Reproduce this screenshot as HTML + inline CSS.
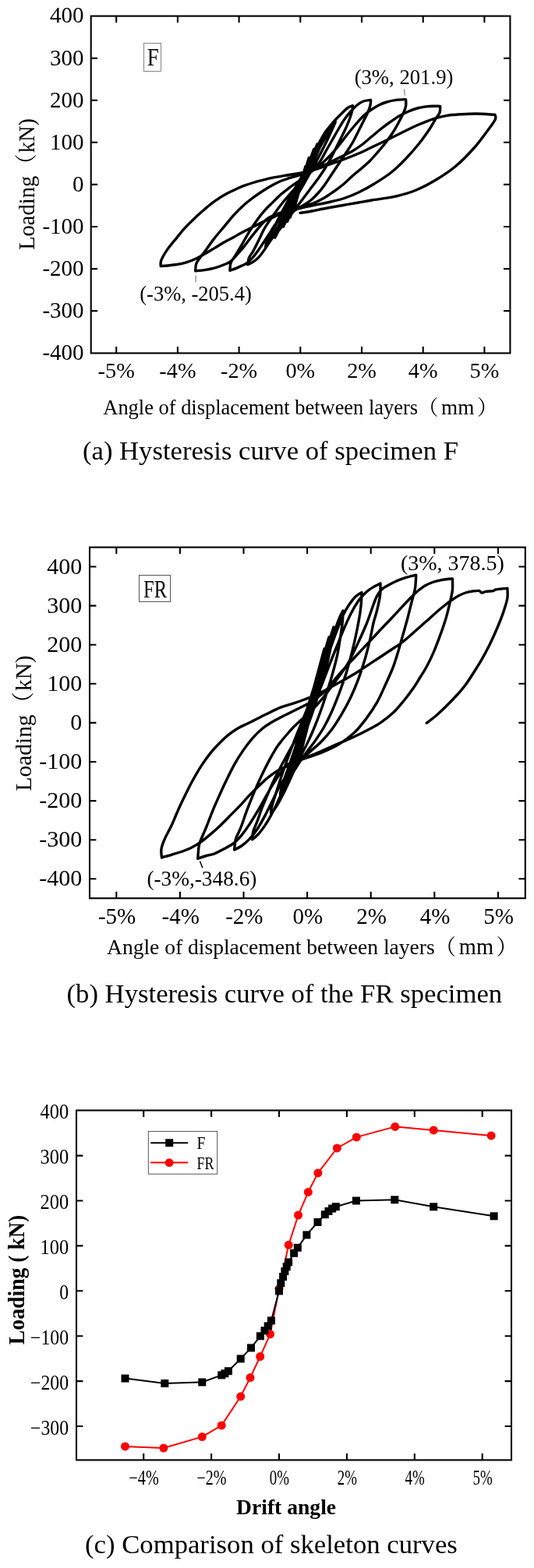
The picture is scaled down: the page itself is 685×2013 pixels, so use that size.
<!DOCTYPE html>
<html><head><meta charset="utf-8"><title>Hysteresis curves</title>
<style>
html,body{margin:0;padding:0;background:#fff;}
body{width:685px;height:2013px;overflow:hidden;}
svg{display:block;}
text{font-family:"Liberation Serif","Noto Serif CJK SC",serif;fill:#000;}
.cj{font-family:"Noto Serif CJK SC","Liberation Serif",serif;}
.b{font-weight:bold;}
</style></head><body>
<svg width="685" height="2013" viewBox="0 0 685 2013">
<rect x="116.7" y="20.6" width="537.7" height="432.8" fill="none" stroke="#000" stroke-width="2.1"/><path d="M149.2 453.4v-8.4M149.2 20.6v8.4M227.9 453.4v-8.4M227.9 20.6v8.4M306.6 453.4v-8.4M306.6 20.6v8.4M385.3 453.4v-8.4M385.3 20.6v8.4M464 453.4v-8.4M464 20.6v8.4M542.7 453.4v-8.4M542.7 20.6v8.4M621.4 453.4v-8.4M621.4 20.6v8.4M116.7 74.7h8.4M654.4 74.7h-8.4M116.7 128.8h8.4M654.4 128.8h-8.4M116.7 182.8h8.4M654.4 182.8h-8.4M116.7 236.9h8.4M654.4 236.9h-8.4M116.7 291h8.4M654.4 291h-8.4M116.7 345.1h8.4M654.4 345.1h-8.4M116.7 399.1h8.4M654.4 399.1h-8.4" stroke="#000" stroke-width="2.1" fill="none"/>
<text x="107.6" y="29.4" font-size="29" text-anchor="end" >400</text>
<text x="107.6" y="83.5" font-size="29" text-anchor="end" >300</text>
<text x="107.6" y="137.6" font-size="29" text-anchor="end" >200</text>
<text x="107.6" y="191.6" font-size="29" text-anchor="end" >100</text>
<text x="107.6" y="245.7" font-size="29" text-anchor="end" >0</text>
<text x="107.6" y="299.8" font-size="29" text-anchor="end" >-100</text>
<text x="107.6" y="353.9" font-size="29" text-anchor="end" >-200</text>
<text x="107.6" y="407.9" font-size="29" text-anchor="end" >-300</text>
<text x="107.6" y="462" font-size="29" text-anchor="end" >-400</text>
<text x="149.2" y="484.7" font-size="28.3" text-anchor="middle" >-5%</text>
<text x="227.9" y="484.7" font-size="28.3" text-anchor="middle" >-4%</text>
<text x="306.6" y="484.7" font-size="28.3" text-anchor="middle" >-2%</text>
<text x="385.3" y="484.7" font-size="28.3" text-anchor="middle" >0%</text>
<text x="464" y="484.7" font-size="28.3" text-anchor="middle" >2%</text>
<text x="542.7" y="484.7" font-size="28.3" text-anchor="middle" >4%</text>
<text x="621.4" y="484.7" font-size="28.3" text-anchor="middle" >5%</text>
<text transform="translate(43.9,320.8) rotate(-90)" font-size="28.5">Loading<tspan class="cj">（</tspan><tspan dx="1">kN)</tspan></text>
<text x="132.3" y="531.6" font-size="26.45">Angle of displacement between layers</text><text x="536.1" y="531.6" font-size="26.45" class="cj">（</text><text x="566.1" y="531.6" font-size="27.2">mm</text><text x="612" y="531.6" font-size="26.45" class="cj">）</text>
<text x="106" y="589.9" font-size="34.65" text-anchor="start" >(a) Hysteresis curve of specimen F</text>
<rect x="184.5" y="55.5" width="22" height="36" fill="#fff" stroke="#666" stroke-width="0.8"/>
<text transform="translate(188.7,84.1) scale(0.87,1)" font-size="31">F</text>
<text x="518" y="107.5" font-size="26.7" text-anchor="middle" >(3%, 201.9)</text>
<text x="251" y="385.7" font-size="26.5" text-anchor="middle" >(-3%, -205.4)</text>
<path d="M518.7 114.5L519.2 122.5M251.1 353.6V362.3" stroke="#555" stroke-width="0.9"/>
<rect x="115" y="702.6" width="558.8" height="450.6" fill="none" stroke="#000" stroke-width="2.1"/><path d="M149.3 1153.2v-8.4M149.3 702.6v8.4M230.9 1153.2v-8.4M230.9 702.6v8.4M312.5 1153.2v-8.4M312.5 702.6v8.4M394.1 1153.2v-8.4M394.1 702.6v8.4M475.7 1153.2v-8.4M475.7 702.6v8.4M557.3 1153.2v-8.4M557.3 702.6v8.4M638.9 1153.2v-8.4M638.9 702.6v8.4M115 727.5h8.4M673.8 727.5h-8.4M115 777.6h8.4M673.8 777.6h-8.4M115 827.7h8.4M673.8 827.7h-8.4M115 877.8h8.4M673.8 877.8h-8.4M115 927.9h8.4M673.8 927.9h-8.4M115 978h8.4M673.8 978h-8.4M115 1028.1h8.4M673.8 1028.1h-8.4M115 1078.2h8.4M673.8 1078.2h-8.4M115 1128.3h8.4M673.8 1128.3h-8.4" stroke="#000" stroke-width="2.1" fill="none"/>
<text x="105.3" y="736.5" font-size="30" text-anchor="end" >400</text>
<text x="105.3" y="786.6" font-size="30" text-anchor="end" >300</text>
<text x="105.3" y="836.7" font-size="30" text-anchor="end" >200</text>
<text x="105.3" y="886.8" font-size="30" text-anchor="end" >100</text>
<text x="105.3" y="936.9" font-size="30" text-anchor="end" >0</text>
<text x="105.3" y="987" font-size="30" text-anchor="end" >-100</text>
<text x="105.3" y="1037.1" font-size="30" text-anchor="end" >-200</text>
<text x="105.3" y="1087.2" font-size="30" text-anchor="end" >-300</text>
<text x="105.3" y="1137.3" font-size="30" text-anchor="end" >-400</text>
<text x="150.1" y="1185.8" font-size="29" text-anchor="middle" >-5%</text>
<text x="231.7" y="1185.8" font-size="29" text-anchor="middle" >-4%</text>
<text x="313.3" y="1185.8" font-size="29" text-anchor="middle" >-2%</text>
<text x="394.9" y="1185.8" font-size="29" text-anchor="middle" >0%</text>
<text x="476.5" y="1185.8" font-size="29" text-anchor="middle" >2%</text>
<text x="558.1" y="1185.8" font-size="29" text-anchor="middle" >4%</text>
<text x="639.7" y="1185.8" font-size="29" text-anchor="middle" >5%</text>
<text transform="translate(39.9,1015.4) rotate(-90)" font-size="29.4">Loading<tspan class="cj">（</tspan><tspan dx="1">kN)</tspan></text>
<text x="137" y="1224.5" font-size="27.55">Angle of displacement between layers</text><text x="557.6" y="1224.5" font-size="27.55" class="cj">（</text><text x="588.8" y="1224.5" font-size="28.4">mm</text><text x="636.6" y="1224.5" font-size="27.55" class="cj">）</text>
<text x="85.5" y="1287.1" font-size="34.7" text-anchor="start" >(b) Hysteresis curve of the FR specimen</text>
<rect x="178.5" y="738.5" width="40" height="34" fill="#fff" stroke="#555" stroke-width="1"/>
<text x="184" y="766.9" font-size="31.5" text-anchor="start" textLength="30" lengthAdjust="spacingAndGlyphs" >FR</text>
<text x="580.4" y="732.2" font-size="28" text-anchor="middle" >(3%, 378.5)</text>
<text x="258.9" y="1137.2" font-size="27.3" text-anchor="middle" >(-3%,-348.6)</text>
<path d="M256.4 1105.5L259.9 1114.3" stroke="#000" stroke-width="1.5"/>
<rect x="98" y="1425.5" width="558" height="448.9" fill="none" stroke="#000" stroke-width="2.1"/><path d="M184.2 1874.4v-8.4M184.2 1425.5v8.4M271.1 1874.4v-8.4M271.1 1425.5v8.4M358 1874.4v-8.4M358 1425.5v8.4M444.9 1874.4v-8.4M444.9 1425.5v8.4M531.8 1874.4v-8.4M531.8 1425.5v8.4M618.7 1874.4v-8.4M618.7 1425.5v8.4M98 1483.6h8.4M656 1483.6h-8.4M98 1541.5h8.4M656 1541.5h-8.4M98 1599.4h8.4M656 1599.4h-8.4M98 1657.3h8.4M656 1657.3h-8.4M98 1715.2h8.4M656 1715.2h-8.4M98 1773.1h8.4M656 1773.1h-8.4M98 1831h8.4M656 1831h-8.4" stroke="#000" stroke-width="2.1" fill="none"/>
<text x="88.1" y="1436" font-size="26.3" text-anchor="end" textLength="36.6" lengthAdjust="spacingAndGlyphs" >400</text>
<text x="88.1" y="1494.1" font-size="26.3" text-anchor="end" textLength="36.6" lengthAdjust="spacingAndGlyphs" >300</text>
<text x="88.1" y="1552" font-size="26.3" text-anchor="end" textLength="36.6" lengthAdjust="spacingAndGlyphs" >200</text>
<text x="88.1" y="1609.9" font-size="26.3" text-anchor="end" textLength="36.6" lengthAdjust="spacingAndGlyphs" >100</text>
<text x="88.1" y="1667.8" font-size="26.3" text-anchor="end" textLength="11.8" lengthAdjust="spacingAndGlyphs" >0</text>
<text x="88.1" y="1725.7" font-size="26.3" text-anchor="end" textLength="49" lengthAdjust="spacingAndGlyphs" >−100</text>
<text x="88.1" y="1783.6" font-size="26.3" text-anchor="end" textLength="49" lengthAdjust="spacingAndGlyphs" >−200</text>
<text x="88.1" y="1841.5" font-size="26.3" text-anchor="end" textLength="49" lengthAdjust="spacingAndGlyphs" >−300</text>
<text x="184.6" y="1905.5" font-size="26.3" text-anchor="middle" textLength="38.1" lengthAdjust="spacingAndGlyphs" >−4%</text>
<text x="271.5" y="1905.5" font-size="26.3" text-anchor="middle" textLength="38.1" lengthAdjust="spacingAndGlyphs" >−2%</text>
<text x="358.4" y="1905.5" font-size="26.3" text-anchor="middle" textLength="25.2" lengthAdjust="spacingAndGlyphs" >0%</text>
<text x="445.3" y="1905.5" font-size="26.3" text-anchor="middle" textLength="25.2" lengthAdjust="spacingAndGlyphs" >2%</text>
<text x="532.2" y="1905.5" font-size="26.3" text-anchor="middle" textLength="25.2" lengthAdjust="spacingAndGlyphs" >4%</text>
<text x="619.1" y="1905.5" font-size="26.3" text-anchor="middle" textLength="25.2" lengthAdjust="spacingAndGlyphs" >5%</text>
<text x="0" y="0" font-size="30" text-anchor="middle" class="b" textLength="166.5" lengthAdjust="spacingAndGlyphs" transform="translate(31.2,1643) rotate(-90)">Loading ( kN)</text>
<text x="367.1" y="1944.4" font-size="27.6" text-anchor="middle" class="b" >Drift angle</text>
<text x="109" y="1994.4" font-size="34.7" text-anchor="start" >(c) Comparison of skeleton curves</text>
<polyline points="160.5,1856.9 209.9,1859 259.3,1844.6 284.2,1829.9 308.7,1792.8 321,1768.6 333.7,1741.5 346.6,1712.8 358,1654.6 370.2,1598.3 382.6,1560 395.3,1530.4 407.9,1505.9 432.4,1473.9 457.3,1459.9 506.8,1446.4 556.2,1450.9 630.1,1457.9" fill="none" stroke="#f00" stroke-width="2"/>
<g fill="#f00"><circle cx="160.5" cy="1856.9" r="5.5"/><circle cx="209.9" cy="1859" r="5.5"/><circle cx="259.3" cy="1844.6" r="5.5"/><circle cx="284.2" cy="1829.9" r="5.5"/><circle cx="308.7" cy="1792.8" r="5.5"/><circle cx="321" cy="1768.6" r="5.5"/><circle cx="333.7" cy="1741.5" r="5.5"/><circle cx="346.6" cy="1712.8" r="5.5"/><circle cx="358" cy="1654.6" r="5.5"/><circle cx="370.2" cy="1598.3" r="5.5"/><circle cx="382.6" cy="1560" r="5.5"/><circle cx="395.3" cy="1530.4" r="5.5"/><circle cx="407.9" cy="1505.9" r="5.5"/><circle cx="432.4" cy="1473.9" r="5.5"/><circle cx="457.3" cy="1459.9" r="5.5"/><circle cx="506.8" cy="1446.4" r="5.5"/><circle cx="556.2" cy="1450.9" r="5.5"/><circle cx="630.1" cy="1457.9" r="5.5"/></g>
<polyline points="160.5,1769.6 211.3,1776 259.3,1774.5 284.2,1765.4 288.4,1763.3 292.9,1760.2 308.7,1744.4 322,1730.4 333.9,1715.3 339.5,1708.3 343.7,1702.4 347.9,1695.4 358,1657.4 360.3,1647.3 363.1,1639.1 365.4,1632.1 367.7,1626.3 370.1,1620.4 377.1,1608.8 381.8,1601.8 393.4,1585.4 407.5,1569 416.8,1559.2 421.5,1555 426.1,1551.5 430.8,1549.2 456.9,1541.5 506.3,1540.3 556.2,1549.3 633.6,1561.3" fill="none" stroke="#000" stroke-width="2"/>
<g fill="#000"><rect x="155.5" y="1764.6" width="10" height="10"/><rect x="206.3" y="1771" width="10" height="10"/><rect x="254.3" y="1769.5" width="10" height="10"/><rect x="279.2" y="1760.4" width="10" height="10"/><rect x="283.4" y="1758.3" width="10" height="10"/><rect x="287.9" y="1755.2" width="10" height="10"/><rect x="303.7" y="1739.4" width="10" height="10"/><rect x="317" y="1725.4" width="10" height="10"/><rect x="328.9" y="1710.3" width="10" height="10"/><rect x="334.5" y="1703.3" width="10" height="10"/><rect x="338.7" y="1697.4" width="10" height="10"/><rect x="342.9" y="1690.4" width="10" height="10"/><rect x="353" y="1652.4" width="10" height="10"/><rect x="355.3" y="1642.3" width="10" height="10"/><rect x="358.1" y="1634.1" width="10" height="10"/><rect x="360.4" y="1627.1" width="10" height="10"/><rect x="362.7" y="1621.3" width="10" height="10"/><rect x="365.1" y="1615.4" width="10" height="10"/><rect x="372.1" y="1603.8" width="10" height="10"/><rect x="376.8" y="1596.8" width="10" height="10"/><rect x="388.4" y="1580.4" width="10" height="10"/><rect x="402.5" y="1564" width="10" height="10"/><rect x="411.8" y="1554.2" width="10" height="10"/><rect x="416.5" y="1550" width="10" height="10"/><rect x="421.1" y="1546.5" width="10" height="10"/><rect x="425.8" y="1544.2" width="10" height="10"/><rect x="451.9" y="1536.5" width="10" height="10"/><rect x="501.3" y="1535.3" width="10" height="10"/><rect x="551.2" y="1544.3" width="10" height="10"/><rect x="628.6" y="1556.3" width="10" height="10"/></g>
<rect x="190.3" y="1452.4" width="88.4" height="54.8" fill="#fff" stroke="#444" stroke-width="0.9"/>
<path d="M193.2 1467.2H241.2" stroke="#000" stroke-width="2"/><rect x="212.2" y="1462.2" width="10" height="10"/>
<path d="M193.2 1492.6H241.2" stroke="#f00" stroke-width="2"/><circle cx="217.1" cy="1492.6" r="5.4" fill="#f00"/>
<text x="252.6" y="1475.2" font-size="23" text-anchor="start" textLength="11" lengthAdjust="spacingAndGlyphs" >F</text>
<text x="252.6" y="1500.6" font-size="23" text-anchor="start" textLength="22" lengthAdjust="spacingAndGlyphs" >FR</text>
<path d="M385.3 236.9C385.4 236.4 385.8 234.9 386 234C386.3 233 386.6 232 386.8 231C387.1 230 387.4 229.1 387.6 228.1C387.9 227.1 388.2 226.1 388.5 225.1C388.8 224.2 389.1 223.2 389.4 222.2C389.6 221.2 389.9 220.2 390.2 219.3C390.5 218.3 390.8 217.3 391.1 216.3C391.4 215.3 391.9 213.9 392 213.4L391.8 214.2C391.5 215.2 390.8 218.3 390.2 220.4C389.7 222.5 389.2 224.6 388.6 226.6C388.1 228.7 387.6 230.8 387 232.9C386.5 234.9 385.9 237 385.3 239.1C384.8 241.1 384.2 243.2 383.7 245.3C383.1 247.4 382.5 249.4 382 251.5C381.4 253.6 380.8 255.6 380.3 257.7C379.7 259.8 378.8 262.9 378.6 263.9L378.8 263C379.1 261.7 380 257.9 380.7 255.4C381.4 252.9 382.1 250.4 382.8 247.9C383.5 245.3 384.2 242.8 384.9 240.3C385.7 237.8 386.4 235.2 387.1 232.7C387.9 230.2 388.6 227.7 389.4 225.2C390.2 222.6 390.9 220.1 391.7 217.6C392.5 215.1 393.2 212.5 394 210C394.8 207.5 395.9 203.7 396.3 202.5L396.1 203.7C395.6 205.2 394.3 209.9 393.4 213.1C392.5 216.2 391.5 219.4 390.6 222.5C389.6 225.6 388.7 228.8 387.7 231.9C386.7 235.1 385.7 238.2 384.7 241.3C383.7 244.5 382.7 247.6 381.6 250.8C380.6 253.9 379.6 257 378.5 260.2C377.5 263.3 376.5 266.5 375.4 269.6C374.4 272.7 372.9 277.5 372.3 279L372.5 277.6C373.1 275.8 374.7 270.4 375.8 266.8C377 263.2 378.2 259.6 379.3 256.1C380.5 252.5 381.8 248.9 383 245.3C384.3 241.7 385.5 238.1 386.8 234.6C388.1 231 389.4 227.4 390.7 223.8C392 220.2 393.4 216.7 394.7 213.1C396 209.5 397.3 205.9 398.7 202.3C400 198.7 402 193.4 402.6 191.6L402.4 193.2C401.8 195.1 399.9 200.8 398.6 204.6C397.3 208.4 396 212.2 394.6 216C393.3 219.8 391.9 223.6 390.5 227.4C389.1 231.2 387.6 235 386.2 238.8C384.8 242.6 383.3 246.4 381.8 250.2C380.4 254 378.9 257.9 377.4 261.7C375.9 265.5 374.4 269.3 373 273.1C371.5 276.9 369.3 282.6 368.5 284.5L368.7 282.8C369.4 280.8 371.4 274.7 372.8 270.6C374.3 266.5 375.7 262.5 377.2 258.4C378.7 254.3 380.3 250.2 381.9 246.2C383.5 242.1 385.1 238 386.7 234C388.3 229.9 390 225.8 391.7 221.7C393.3 217.7 395 213.6 396.7 209.5C398.4 205.5 400.1 201.4 401.8 197.3C403.5 193.2 406 187.1 406.9 185.1L406.7 186.9C405.9 189.1 403.5 195.6 401.9 199.9C400.3 204.3 398.6 208.6 396.9 212.9C395.2 217.3 393.4 221.6 391.6 225.9C389.8 230.3 388 234.6 386.2 238.9C384.3 243.3 382.4 247.6 380.6 252C378.7 256.3 376.8 260.6 374.9 265C373 269.3 371.1 273.6 369.2 278C367.3 282.3 364.4 288.8 363.5 291L363.7 289.1C364.5 286.9 366.8 280.5 368.4 276.3C370 272 371.7 267.7 373.4 263.5C375.1 259.2 376.8 254.9 378.6 250.7C380.4 246.4 382.2 242.1 384 237.8C385.8 233.6 387.7 229.3 389.6 225C391.4 220.8 393.3 216.5 395.2 212.2C397 208 398.9 203.7 400.8 199.4C402.7 195.1 405.5 188.7 406.4 186.6L406.2 188.4C405.5 190.5 403.2 196.8 401.6 201C400 205.2 398.4 209.4 396.7 213.6C395 217.8 393.3 222 391.6 226.2C389.8 230.4 388 234.7 386.2 238.9C384.5 243.1 382.6 247.3 380.8 251.5C379 255.7 377.1 259.9 375.3 264.1C373.4 268.3 371.6 272.5 369.7 276.7C367.8 280.9 365.1 287.2 364.2 289.4L364.4 287.5C365.3 285.1 367.9 277.7 369.8 272.8C371.6 267.9 373.6 263 375.7 258.1C377.8 253.2 379.9 248.3 382.1 243.4C384.3 238.4 386.5 233.5 388.8 228.6C391.1 223.7 393.5 218.8 395.8 213.9C398.2 209 400.6 204.1 403 199.2C405.4 194.3 407.8 189.4 410.2 184.5C412.6 179.6 416.2 172.2 417.4 169.7L417.2 172.1C416.1 174.9 412.7 183.2 410.4 188.7C408 194.3 405.5 199.8 403 205.4C400.5 210.9 397.9 216.4 395.2 222C392.5 227.5 389.8 233.1 387 238.6C384.3 244.2 381.4 249.7 378.6 255.2C375.7 260.8 372.9 266.3 370 271.9C367.1 277.4 364.2 283 361.3 288.5C358.4 294.1 354.1 302.4 352.7 305.1L352.9 302.8C354 300 357.3 291.8 359.7 286.3C362 280.9 364.5 275.4 367 269.9C369.5 264.5 372.1 259 374.8 253.5C377.4 248.1 380.1 242.6 382.9 237.1C385.6 231.6 388.4 226.2 391.2 220.7C394 215.2 396.9 209.8 399.7 204.3C402.5 198.8 405.4 193.4 408.3 187.9C411.1 182.4 415.4 174.2 416.8 171.5L416.6 173.8C415.5 176.5 412.2 184.6 409.9 190C407.6 195.4 405.2 200.8 402.7 206.2C400.2 211.6 397.6 217 395 222.4C392.4 227.8 389.7 233.2 387 238.6C384.3 244 381.5 249.4 378.7 254.8C375.9 260.2 373.1 265.6 370.3 271C367.5 276.4 364.6 281.8 361.8 287.2C359 292.6 354.8 300.7 353.4 303.4L353.6 301.1C354.8 298 358.4 288.9 361 282.8C363.7 276.6 366.5 270.5 369.4 264.4C372.4 258.3 375.5 252.2 378.6 246.1C381.8 240 385 233.9 388.4 227.8C391.7 221.6 395.1 215.5 398.6 209.4C402 203.3 405.5 197.2 409.1 191.1C412.6 185 416.1 178.9 419.6 172.8C423.2 166.7 428.4 157.5 430.2 154.4L430 157.3C428.5 160.7 424.1 170.7 420.9 177.4C417.7 184.1 414.3 190.8 410.9 197.5C407.4 204.3 403.8 211 400.1 217.7C396.4 224.4 392.6 231.1 388.8 237.8C384.9 244.5 380.9 251.2 377 257.9C373 264.6 368.9 271.3 364.9 278C360.9 284.7 356.8 291.4 352.7 298.1C348.7 304.8 342.6 314.9 340.6 318.2L340.8 315.4C342.3 312.1 346.7 302.1 349.8 295.5C353 288.9 356.3 282.2 359.8 275.6C363.2 269 366.8 262.4 370.5 255.7C374.1 249.1 377.9 242.5 381.7 235.9C385.5 229.2 389.5 222.6 393.4 216C397.3 209.3 401.3 202.7 405.3 196.1C409.3 189.5 413.4 182.8 417.4 176.2C421.4 169.6 427.4 159.6 429.4 156.3L429.2 159.1C427.7 162.4 423.4 172.3 420.2 178.8C417.1 185.4 413.8 191.9 410.4 198.5C407 205 403.4 211.6 399.8 218.1C396.1 224.7 392.4 231.2 388.6 237.8C384.8 244.3 380.9 250.9 377 257.4C373.1 264 369.1 270.5 365.1 277.1C361.1 283.6 357.1 290.2 353.1 296.7C349.1 303.3 343.2 313.1 341.2 316.4L341.4 313.6L341.2 313C342 311.2 344 305.8 346 302C348 298.2 350.5 294.5 353 290C355.5 285.5 358.3 279.8 361 275C363.7 270.2 366.3 265.7 369 261C371.7 256.3 374.3 251.7 377 247C379.7 242.3 382.3 238 385 233C387.7 228 390.3 222.5 393 217C395.7 211.5 398.3 205.5 401 200C403.7 194.5 406.3 189 409 184C411.7 179 414.5 173.8 417 170C419.5 166.2 421.7 163.8 424 161C426.3 158.2 428.7 155.5 431 153C433.3 150.5 435.5 148.4 438 146C440.5 143.6 443.6 140.2 446 138.5C448.4 136.8 451.3 136.1 452.4 135.6C452.3 136.7 452.5 138.9 451.8 142C451.1 145.1 449.6 149.7 448 154C446.4 158.3 444 163.7 442 168C440 172.3 438 176 436 180C434 184 432 188 430 192C428 196 426.2 200 424 204C421.8 208 419.5 212 417 216C414.5 220 411.8 224 409 228C406.2 232 403 236 400 240C397 244 394 248 391 252C388 256 385 260 382 264C379 268 376 272 373 276C370 280 367 284.2 364 288C361 291.8 357.8 295.6 355 299C352.2 302.4 349.8 304.9 347.3 308.4C344.8 311.9 342.3 316.3 339.8 319.9C337.3 323.5 334.8 327.1 332.3 329.8C329.8 332.5 327.2 334.4 324.8 336.1C322.4 337.8 319 339.2 317.8 339.8C318.1 338.4 318.1 334 319.3 331.1C320.5 328.2 322.6 326.2 324.8 322.3C327 318.4 329.8 312.4 332.3 307.4C334.8 302.4 336.9 297.4 339.8 292.4C342.7 287.4 346.5 282.2 349.8 277.4C353.1 272.6 356.1 268.4 359.8 263.7C363.5 259 368 253.6 372 249C376 244.4 380 240.5 384 236C388 231.5 391.7 226.7 396 222C400.3 217.3 406.3 212.7 410 208C413.7 203.3 415.3 198.7 418 194C420.7 189.3 423.3 184.7 426 180C428.7 175.3 431.3 170.5 434 166C436.7 161.5 439.3 156.8 442 153C444.7 149.2 447.3 146 450 143C452.7 140 455.3 137.2 458 135C460.7 132.8 463.1 131.1 466 130C468.9 128.9 474 128.7 475.6 128.4C475.5 129.5 475.6 132.4 475 135C474.4 137.6 473.5 140.5 472 144C470.5 147.5 468 152 466 156C464 160 462 164 460 168C458 172 456 176.3 454 180C452 183.7 450.3 186.3 448 190C445.7 193.7 442.7 198 440 202C437.3 206 434.7 210 432 214C429.3 218 426.7 222 424 226C421.3 230 418.7 234.3 416 238C413.3 241.7 410.7 245 408 248C405.3 251 403 253.5 400 256C397 258.5 394.7 260 390 263C385.3 266 377.9 270.1 372 274C366.1 277.9 358.9 282.3 354.8 286.2C350.7 290.1 349.8 293.7 347.3 297.4C344.8 301.1 342.3 304.9 339.8 308.6C337.3 312.4 334.8 316.4 332.3 319.9C329.8 323.4 327.3 326.9 324.8 329.8C322.3 332.7 320.6 335 317.3 337.3C314 339.6 308.5 341.9 304.8 343.6C301.1 345.3 296.5 346.7 294.9 347.3C295.1 345.6 294.9 340.6 296.1 337.3C297.3 334 300 331 302.3 327.3C304.6 323.6 306.9 319.9 309.8 314.9C312.7 309.9 316.5 302.8 319.8 297.4C323.1 292 326.5 287 329.8 282.4C333.1 277.8 336.5 273.6 339.8 269.9C343.1 266.1 346.5 263.2 349.8 259.9C353.1 256.6 356.3 253.1 359.8 250C363.3 246.9 367 244.2 371 241.2C375 238.2 379.8 235 384 232C388.2 229 392 226 396 223C400 220 404.7 216.7 408 214C411.3 211.3 413 209.8 416 207C419 204.2 422.7 200.7 426 197C429.3 193.3 432.7 189.2 436 185C439.3 180.8 442.7 176.2 446 172C449.3 167.8 452.7 163.8 456 160C459.3 156.2 462.7 152.2 466 149C469.3 145.8 472.7 143.3 476 141C479.3 138.7 482.7 136.7 486 135C489.3 133.3 492.3 132.1 496 131C499.7 129.9 503.9 129 508 128.4C512.1 127.8 518.5 127.7 520.6 127.6C520.6 129 521 133.3 520.6 136C520.2 138.7 519.4 140.7 518 144C516.6 147.3 514.3 151.7 512 156C509.7 160.3 507 165.3 504 170C501 174.7 497.3 179.7 494 184C490.7 188.3 487.3 192.2 484 196C480.7 199.8 477.3 203.7 474 207C470.7 210.3 467.7 212.8 464 216C460.3 219.2 456 222.5 452 226C448 229.5 444 233.7 440 237C436 240.3 432 243.2 428 246C424 248.8 420 251.7 416 254C412 256.3 408 258.3 404 260C400 261.7 395.3 262.8 392 264C388.7 265.2 387.7 265.9 384 267C380.3 268.1 374.5 269.3 370 270.5C365.5 271.7 361.2 272.5 357 274C352.8 275.5 348.1 277.5 344.8 279.5C341.5 281.5 340.6 282.6 337.3 286.2C334 289.8 329 295.9 324.8 301.1C320.6 306.3 315.6 313.2 312.3 317.4C309 321.6 307.5 323.1 304.8 326.1C302.1 329.1 299 333 296.1 335.3C293.2 337.6 290.9 338.3 287.4 339.8C283.9 341.3 279.1 343 274.9 344.1C270.7 345.2 266.4 346 262.4 346.6C258.4 347.2 252.6 347.6 250.7 347.8C250.9 346.3 250.6 341.6 251.7 338.6C252.8 335.6 255.2 332.9 257.4 329.8C259.6 326.7 262 323.8 264.9 319.9C267.8 315.9 271.1 310.9 274.9 306.1C278.6 301.3 283.2 296.1 287.4 291.1C291.6 286.1 295.8 280.8 299.9 276.2C304 271.6 308.1 267.4 312.3 263.7C316.5 259.9 320.6 256.8 324.8 253.7C329 250.6 333.1 247.7 337.3 245C341.5 242.3 346 239.6 349.8 237.5C353.6 235.4 356.5 234 360 232.5C363.5 231 367.7 229.8 371 228.7C374.3 227.6 377.2 226.8 380 226C382.8 225.2 384 225.5 388 224C392 222.5 398.7 219.3 404 217C409.3 214.7 414.7 212.5 420 210C425.3 207.5 430.7 204.7 436 202C441.3 199.3 447.3 196.7 452 194C456.7 191.3 460 189 464 186C468 183 472 179.3 476 176C480 172.7 484 169.2 488 166C492 162.8 496 159.8 500 157C504 154.2 508 151.3 512 149C516 146.7 519.8 144.8 524 143C528.2 141.2 533.3 139.5 537 138.5C540.7 137.5 543 137.3 546 136.9C549 136.5 551.9 136.3 555 136.2C558.1 136.1 563 136.4 564.6 136.4C564.5 137.8 565 142 564 144.7C563 147.4 561 149.1 558.8 152.6C556.6 156.1 554.5 160.5 551 165.7C547.5 170.9 543.1 177.4 537.8 184C532.5 190.6 525.5 198.7 519.4 205C513.3 211.3 507.6 216.8 501 222C494.4 227.2 486.8 231.8 480 236C473.2 240.2 466.7 243.8 460 247C453.3 250.2 446.7 252.8 440 255C433.3 257.2 426.7 258.5 420 260C413.3 261.5 405.7 262.8 400 264C394.3 265.2 390.7 265.9 386 267C381.3 268.1 376.3 269.2 372 270.5C367.7 271.8 363.7 273.1 360 274.5C356.3 275.9 353.6 277.5 349.8 279.2C346 280.9 341.5 282.9 337.3 284.9C333.1 286.9 329 289 324.8 291.1C320.6 293.2 316.5 295.2 312.3 297.4C308.1 299.6 304 302.1 299.9 304.4C295.8 306.7 291.6 308.7 287.4 311.1C283.2 313.5 279.1 316.1 274.9 318.6C270.7 321.1 266.6 323.7 262.4 326.1C258.2 328.5 254.1 330.9 249.9 332.8C245.7 334.7 241.6 336.1 237.4 337.3C233.2 338.5 228.7 339.2 225 339.8C221.3 340.4 218.1 340.7 215 341C211.9 341.3 207.7 341.5 206.2 341.6C206.3 340.3 205.5 337.2 207 333.6C208.5 330 212 324.3 215 319.9C218 315.5 221.3 312 225 307.4C228.7 302.8 233.2 297 237.4 292.4C241.6 287.8 245.7 283.8 249.9 279.9C254.1 275.9 258.2 272.2 262.4 268.7C266.6 265.2 270.7 261.7 274.9 258.7C279.1 255.7 283.2 252.9 287.4 250.5C291.6 248.1 295.8 246.2 299.9 244.2C304 242.2 308.1 240.3 312.3 238.7C316.5 237.1 320.6 235.8 324.8 234.5C329 233.2 333.1 232.2 337.3 231.2C341.5 230.1 344.2 229.3 349.8 228.2C355.4 227.1 364.6 225.6 371 224.5C377.4 223.4 382.2 222.8 388 221.6C393.8 220.3 400.7 218.6 406 217C411.3 215.4 414.3 214 420 212C425.7 210 433.3 207.5 440 205C446.7 202.5 453.8 199.7 460 197C466.2 194.3 470.3 192.2 477 189C483.7 185.8 494.2 180.8 500 178C505.8 175.2 508 174 512 172C516 170 519.8 168 524 166C528.2 164 531.7 162.2 537 160C542.3 157.8 550.2 154.5 556 152.6C561.8 150.7 566.3 149.6 572 148.6C577.7 147.6 583.5 147.2 590 146.8C596.5 146.4 603.5 145.9 611 146C618.5 146.1 631 147.1 635 147.3C635 148.4 637 150.1 635 154C633 157.9 627.3 165.2 623 171C618.7 176.8 615.3 182 609 189C602.7 196 593.3 206 585 213C576.7 220 567.7 225.8 559 231C550.3 236.2 541.4 240.9 532.6 244.5C523.8 248.1 515.3 250.3 506 252.4C496.7 254.5 484.7 255.7 477 257C469.3 258.3 466.2 258.9 460 260C453.8 261.1 446.7 262.3 440 263.5C433.3 264.7 426.7 265.8 420 267C413.3 268.2 405.8 269.9 400 271C394.2 272.1 387.5 273 385 273.4" fill="none" stroke="#000" stroke-width="3.4" stroke-linejoin="round" stroke-linecap="round"/>
<path d="M394.1 927.9C394.2 927.3 394.5 925.6 394.7 924.4C394.9 923.2 395.1 922.1 395.3 920.9C395.6 919.8 395.8 918.6 396 917.4C396.3 916.3 396.5 915.1 396.8 914C397.1 912.8 397.3 911.6 397.6 910.5C397.8 909.3 398.1 908.1 398.4 907C398.7 905.8 398.9 904.6 399.2 903.5C399.5 902.3 399.9 900.6 400 900L399.8 900.8C399.6 902 399.2 905.4 398.9 907.6C398.5 909.9 398.1 912.1 397.7 914.4C397.3 916.6 396.9 918.9 396.5 921.1C396 923.4 395.5 925.7 395.1 927.9C394.6 930.2 394.1 932.4 393.6 934.7C393.1 936.9 392.6 939.2 392.1 941.5C391.6 943.7 391 946 390.5 948.2C390 950.5 389.3 953.9 389 955L389.2 954.2C389.5 952.6 390.3 947.7 390.9 944.5C391.5 941.3 392.1 938.1 392.8 934.8C393.4 931.6 394.1 928.4 394.8 925.2C395.4 921.9 396.1 918.7 396.8 915.5C397.5 912.3 398.3 909 399 905.8C399.7 902.6 400.5 899.4 401.2 896.1C401.9 892.9 402.7 889.7 403.4 886.5C404.1 883.2 405.2 878.4 405.6 876.8L405.4 878.3C405.1 880.4 404.3 886.5 403.6 890.5C403 894.6 402.2 898.7 401.4 902.7C400.6 906.8 399.8 910.9 398.9 914.9C398 919 397 923.1 396 927.1C395 931.2 394 935.2 393 939.3C391.9 943.4 390.9 947.4 389.8 951.5C388.7 955.6 387.7 959.6 386.6 963.7C385.5 967.8 383.9 973.9 383.4 975.9L383.6 974.5C384.1 971.9 385.5 964.3 386.5 959.3C387.5 954.2 388.5 949.2 389.6 944.1C390.7 939 391.8 934 392.9 928.9C394.1 923.9 395.2 918.8 396.4 913.7C397.6 908.7 398.8 903.6 400 898.5C401.2 893.5 402.4 888.4 403.7 883.4C404.9 878.3 406.1 873.2 407.3 868.2C408.6 863.1 410.4 855.5 411 853L410.8 855.2C410.4 858 409.3 866.4 408.3 872C407.3 877.5 406.2 883.1 405 888.7C403.8 894.3 402.5 899.8 401.1 905.4C399.8 911 398.3 916.6 396.8 922.1C395.2 927.7 393.6 933.3 392 938.8C390.4 944.4 388.7 950 387.1 955.6C385.4 961.1 383.7 966.7 382 972.3C380.3 977.9 377.8 986.2 377 989L377.2 987.2C377.9 984 379.9 974.3 381.3 967.9C382.7 961.5 384.2 955 385.8 948.6C387.3 942.2 388.9 935.8 390.5 929.4C392.1 922.9 393.7 916.5 395.4 910.1C397.1 903.7 398.8 897.2 400.5 890.8C402.2 884.4 403.9 878 405.6 871.5C407.3 865.1 409.1 858.7 410.8 852.3C412.5 845.8 415.1 836.2 416 833L415.8 835.8C415.3 839.3 413.9 849.6 412.7 856.5C411.4 863.3 410 870.2 408.4 877.1C406.9 883.9 405.2 890.8 403.4 897.7C401.5 904.5 399.6 911.4 397.6 918.3C395.6 925.1 393.4 932 391.3 938.9C389.1 945.7 386.9 952.6 384.7 959.5C382.5 966.4 380.2 973.2 378 980.1C375.7 987 372.4 997.3 371.3 1000.7L371.5 998.5C372.4 994.8 375 983.5 376.8 976C378.7 968.4 380.6 960.9 382.6 953.4C384.6 945.9 386.6 938.3 388.7 930.8C390.8 923.3 393 915.8 395.1 908.3C397.3 900.7 399.5 893.2 401.7 885.7C404 878.2 406.2 870.7 408.5 863.1C410.7 855.6 413 848.1 415.2 840.6C417.5 833 420.9 821.8 422 818L421.8 821.3C421.2 825.3 419.5 837.3 417.9 845.3C416.4 853.2 414.6 861.2 412.7 869.2C410.7 877.2 408.5 885.2 406.2 893.2C403.9 901.2 401.4 909.2 398.8 917.1C396.2 925.1 393.5 933.1 390.7 941.1C388 949.1 385.1 957.1 382.2 965.1C379.4 973.1 376.4 981 373.6 989C370.7 997 366.4 1009 365 1013L365.2 1010.4C366.3 1006.2 369.5 993.3 371.8 984.8C374.1 976.2 376.5 967.6 379 959.1C381.4 950.5 384 942 386.6 933.4C389.2 924.8 391.9 916.3 394.6 907.7C397.3 899.2 400 890.6 402.8 882C405.5 873.5 408.3 864.9 411.1 856.4C414 847.8 416.8 839.2 419.6 830.7C422.4 822.1 426.6 809.3 428 805L427.8 808.7C427 813.2 425.1 826.6 423.3 835.6C421.4 844.6 419.3 853.6 416.9 862.6C414.6 871.5 412 880.5 409.2 889.5C406.4 898.5 403.4 907.5 400.3 916.4C397.2 925.4 393.9 934.4 390.5 943.4C387.2 952.4 383.7 961.3 380.2 970.3C376.8 979.3 373.2 988.3 369.8 997.3C366.3 1006.2 361.1 1019.7 359.4 1024.2L359.6 1021.3L359.6 1018C360.2 1015.8 361.4 1010 363 1005C364.6 1000 366.8 994.2 369 988C371.2 981.8 373.7 974.7 376 968C378.3 961.3 380.7 954.7 383 948C385.3 941.3 387.7 934.7 390 928C392.3 921.3 394.7 914.7 397 908C399.3 901.3 401.7 894.8 404 888C406.3 881.2 408.7 874 411 867C413.3 860 415.7 853.3 418 846C420.3 838.7 422.8 829.8 425 823C427.2 816.2 429.2 810.2 431 805C432.8 799.8 434.5 795.5 436 792C437.5 788.5 439.3 785.3 440 784C439.9 785.8 440 790.8 439.6 795C439.2 799.2 439 802.1 437.9 809.5C436.8 816.9 434.9 830.2 433 839.3C431.1 848.4 429.1 855.7 426.8 864C424.5 872.3 421.8 881 419.3 888.9C416.8 896.8 414.4 904.2 411.9 911.2C409.4 918.2 407.1 924.4 404.4 931C401.7 937.6 398.5 945.1 395.8 950.9C393.1 956.7 390.9 960.4 388.3 965.8C385.7 971.1 382.7 977.1 380 983C377.3 988.9 374.7 995.2 372 1001C369.3 1006.8 366.7 1012.7 364 1018C361.3 1023.3 358.7 1028.5 356 1033C353.3 1037.5 349.2 1043.1 347.8 1045.1C347.9 1043.8 347.1 1042 348.3 1037C349.5 1032 352.2 1023.7 355 1015C357.8 1006.3 361.5 995 365 985C368.5 975 372.2 965 376 955C379.8 945 384 935 388 925C392 915 396 905 400 895C404 885 408 875.5 412 865C416 854.5 420.7 841.2 424 832C427.3 822.8 429.3 817 432 810C434.7 803 437.3 795.7 440 790C442.7 784.3 445.3 780 448 776C450.7 772 453.3 768.6 456 766C458.7 763.4 462.7 761.5 464 760.6C463.9 762.5 463.8 767.8 463.5 772C463.2 776.2 462.9 779.8 462 786C461.1 792.2 459.5 801 457.8 809.5C456.1 818 453.9 827.7 451.6 836.8C449.3 845.9 446.8 855.3 444.1 864C441.4 872.7 438.6 880.6 435.5 888.9C432.4 897.2 428.8 906.3 425.5 913.7C422.2 921.1 419.1 927.3 415.6 933.5C412.1 939.7 408.1 945.5 404.4 950.9C400.7 956.3 397 960.6 393.3 965.8C389.6 971 385.7 976.3 382 982C378.3 987.7 374.3 994.2 371 1000C367.7 1005.8 364.7 1011.6 362 1017C359.3 1022.4 357.2 1027.3 354.8 1032.4C352.4 1037.5 349.8 1042.8 347.3 1047.4C344.8 1052 342.3 1056.2 339.8 1059.9C337.3 1063.6 335 1066.8 332.3 1069.8C329.6 1072.8 325.1 1076.5 323.6 1077.8C323.8 1076 323.8 1071.1 324.8 1067.3C325.8 1063.5 327.9 1059.9 329.8 1054.9C331.7 1049.9 333.9 1042.8 336 1037.4C338.1 1032 340 1027.8 342.3 1022.4C344.6 1017 346.9 1011.1 349.8 1004.9C352.7 998.7 356.4 991.5 359.8 985C363.2 978.5 366.6 972.2 370 966C373.4 959.8 376.3 954.8 380 948C383.7 941.2 388 933 392 925C396 917 400.3 908.2 404 900C407.7 891.8 410.7 884.3 414 876C417.3 867.7 421 857.7 424 850C427 842.3 429.3 836.7 432 830C434.7 823.3 437 817 440 810C443 803 446.7 794.5 450 788C453.3 781.5 456.7 775.7 460 771C463.3 766.3 466.7 763 470 760C473.3 757 477 754.8 480 753C483 751.2 486.7 749.7 488 749C487.9 751.5 488.3 758.5 487.6 764C486.9 769.5 485.4 776 484 782C482.6 788 480.5 793.7 479 800C477.5 806.3 476.6 812.5 474.9 820C473.1 827.5 471.1 836.3 468.5 845C465.9 853.7 462.6 864.1 459.5 872.4C456.4 880.7 453.6 887.4 450 894.9C446.4 902.4 442.2 910.2 438 917.3C433.8 924.4 429.3 931.5 425 937.3C420.7 943.1 416.2 948 412 952.3C407.8 956.6 404.3 959 400 963C395.7 967 390.7 971.5 386 976C381.3 980.5 376.4 984.8 372 990C367.6 995.2 363.5 1001.2 359.8 1007.4C356.1 1013.6 353.1 1020.7 349.8 1027.4C346.5 1034.1 343.1 1041.2 339.8 1047.4C336.5 1053.6 333.1 1059.8 329.8 1064.8C326.5 1069.8 323.1 1073.8 319.8 1077.3C316.5 1080.8 313 1083.7 309.8 1086C306.6 1088.3 302.1 1090.2 300.6 1091C300.9 1088.7 301.5 1080.8 302.3 1077.3C303.1 1073.8 304.2 1072.9 305.5 1070C306.8 1067.1 307.9 1065 309.8 1060C311.7 1055 314.1 1047.4 316.8 1040.2C319.5 1033 323 1024.2 326.1 1016.8C329.2 1009.4 332.4 1002.4 335.5 995.8C338.6 989.2 341.7 983 344.8 977.1C347.9 971.2 351.7 964.8 354.2 960.7C356.7 956.6 357.7 955.6 360 952.6C362.3 949.6 365.3 946.1 368 943C370.7 939.9 372.7 937.3 376 934C379.3 930.7 383.7 926.7 387.7 923C391.7 919.3 395.4 916.7 400 912C404.6 907.3 410 901.2 415 895C420 888.8 424.9 882.1 430 875C435.1 867.9 440.9 860.7 445.7 852.6C450.5 844.5 454.7 835.2 458.8 826.4C462.9 817.6 466.6 809.7 470.5 800C474.4 790.3 479 775.2 482.2 768C485.4 760.8 487.1 759.6 489.5 756.9C491.9 754.2 493.6 753.7 496.8 751.9C500 750.1 504.6 747.7 508.5 746C512.4 744.3 515.9 743 520.1 741.7C524.3 740.4 531.4 738.8 533.7 738.2C533.5 741 533.5 748.9 532.5 755C531.5 761.1 529.2 768.3 527.5 775C525.8 781.7 524.4 787.9 522.5 795C520.6 802.1 518.2 810.2 516.2 817.4C514.2 824.6 512.4 831.2 510.3 838C508.2 844.8 506.4 851.2 503.7 858C501 864.8 497.7 871.8 494.4 879C491.1 886.2 488 893.9 483.8 901.3C479.6 908.7 474 917 469 923.6C464 930.2 459.8 935.6 454 941C448.2 946.4 441.2 951.6 434.2 955.9C427.2 960.1 418.9 963.6 411.9 966.5C404.9 969.4 399 970.9 392 973.3C385 975.7 375.1 977.8 369.7 981C364.3 984.2 363.1 988.1 359.8 992.5C356.5 996.9 353.1 1002 349.8 1007.4C346.5 1012.8 343.1 1019.1 339.8 1024.9C336.5 1030.7 333.1 1036.8 329.8 1042.4C326.5 1048 323.1 1053.6 319.8 1058.6C316.5 1063.6 313.1 1068.3 309.8 1072.3C306.5 1076.2 303.6 1079.4 299.9 1082.3C296.2 1085.2 291.6 1087.5 287.4 1089.8C283.2 1092.1 278.6 1094.5 274.9 1096C271.1 1097.5 268.4 1097.5 264.9 1098.5C261.4 1099.5 255.6 1101.7 253.7 1102.3C254 1099.4 254.4 1089.7 255.4 1084.8C256.4 1079.9 258.2 1077.1 259.9 1073C261.6 1068.9 263.5 1064.6 265.4 1060C267.2 1055.4 269.1 1050.4 271 1045.5C272.9 1040.6 274.1 1037.5 277.1 1030.8C280.1 1024.1 284.9 1013.3 288.8 1005.1C292.7 996.9 296.5 988.8 300.4 981.8C304.3 974.8 308.2 968.8 312.1 963.1C316 957.5 319.9 952.4 323.8 947.9C327.7 943.4 331.6 939.5 335.5 936.2C339.4 932.9 343.1 930.5 347.2 928C351.3 925.5 354.5 923.8 360 921C365.5 918.2 373.8 914.2 380 911C386.2 907.8 391.3 906 397.5 902C403.7 898 412 892.1 417.4 887C422.8 881.9 425.8 876.4 430 871.5C434.2 866.6 438.2 862.1 442.4 857.5C446.5 852.9 450.7 848.5 454.9 844C459.1 839.5 463.2 835.1 467.4 830.6C471.6 826.1 475.8 821.7 479.9 817.3C484 812.9 488.9 807.5 492.3 804C495.7 800.5 496.6 799.6 500 796C503.4 792.4 508.3 787.1 512.5 782.6C516.7 778.1 521.8 772.6 525 769.3C528.2 765.9 529.7 764.5 531.8 762.5C533.9 760.5 535.2 759.2 537.4 757.5C539.6 755.8 542.1 753.7 545 752C547.9 750.3 551.7 748.7 555 747.5C558.3 746.3 562.1 745.4 565 744.8C567.9 744.2 569.8 744 572.4 743.7C575 743.4 579.1 743.1 580.4 743C580.4 745.4 580.9 752.6 580.4 757.5C579.9 762.4 578.7 766.6 577.4 772.4C576.1 778.2 574.5 785.3 572.4 792.4C570.3 799.5 567.6 807.4 564.9 814.9C562.2 822.4 559.2 830.3 556.2 837.3C553.2 844.3 549.4 851.7 546.6 857C543.8 862.3 542.1 864.5 539.3 869C536.5 873.5 533.5 878.8 529.8 884C526.1 889.2 521.5 895.4 517.3 900.5C513.1 905.6 509.6 910 504.8 914.5C500.1 919 494 923.7 488.8 927.3C483.6 930.9 479.7 932.9 473.9 936C468.1 939.1 460.6 942.9 454 946C447.4 949.1 441.2 951.5 434.2 954.6C427.2 957.7 418.1 961.9 411.9 964.6C405.7 967.3 401.8 968.7 397 970.8C392.2 972.9 387.6 975 383.3 977C379 979 375.3 980.5 371 982.5C366.7 984.5 361.7 986.2 357.3 988.7C352.9 991.2 349 994.1 344.8 997.4C340.6 1000.7 336.5 1004.7 332.3 1008.7C328.1 1012.7 324 1016.8 319.8 1021.2C315.6 1025.6 311.5 1030.5 307.3 1034.9C303.1 1039.3 299 1043.2 294.9 1047.4C290.8 1051.6 286.6 1056 282.4 1059.9C278.2 1063.9 274.1 1067.6 269.9 1071.1C265.7 1074.6 261.6 1078.2 257.4 1081.1C253.2 1084 249.1 1086.5 244.9 1088.6C240.8 1090.7 236.7 1092 232.5 1093.5C228.3 1095 224.2 1096 220 1097.3C215.8 1098.5 209.6 1100.4 207.5 1101C207.4 1099.1 206.3 1093.9 207 1089.8C207.7 1085.7 209.3 1081.5 211.5 1076.5C213.7 1071.5 217.3 1065.5 219.9 1060C222.5 1054.5 224.5 1049.2 227 1043.5C229.5 1037.8 231.7 1032.9 235 1026.1C238.3 1019.3 242.8 1010 246.7 1002.8C250.6 995.6 254.5 988.9 258.4 982.9C262.3 976.9 266.2 971.5 270.1 966.6C274 961.7 277.9 957.6 281.8 953.7C285.7 949.8 289.5 946.3 293.4 943.2C297.3 940.1 301.2 937.3 305.1 935C309 932.7 312.9 931.1 316.8 929.2C320.7 927.3 324.6 925.4 328.5 923.4C332.4 921.4 334.9 920 340.2 917.5C345.4 915 354 910.6 360 908.2C366 905.8 370.9 904.9 376 903.2C381.1 901.5 385.8 899.8 390.6 898C395.4 896.2 400.5 894.5 405 892.5C409.5 890.5 412 888.9 417.4 886C422.8 883.1 431.1 878.5 437.4 875C443.6 871.5 447.8 869.4 454.9 865C462 860.6 472 853.9 479.9 848.7C487.8 843.5 496.3 837.8 502 834C507.7 830.2 510.2 828.8 514 826C517.8 823.2 521.1 820.3 525 817C528.9 813.7 533.2 809.7 537.4 806C541.6 802.3 545.8 798.6 550 794.9C554.2 791.2 558.2 787.2 562.4 783.7C566.5 780.2 572 776 574.9 773.7C577.8 771.5 577.8 771.7 580 770.2C582.2 768.8 585 766.5 587.9 765C590.8 763.5 594 762 597.1 761C600.2 760 603.4 759.4 606.3 759C609.1 758.6 612.2 758.1 614.2 758.4C616.2 758.7 616.6 760.8 618.1 761C619.6 761.2 621 759.8 623.4 759.4C625.8 759 630.6 759.1 632.6 758.7C634.6 758.3 633.5 757.6 635.2 757.1C637 756.6 640.5 756.3 643.1 756C645.7 755.7 649.6 755.2 650.9 755.1C650.9 757.2 651.5 763.1 650.9 767.6C650.2 772.1 648.5 777.2 647 782C645.5 786.8 643.8 791.5 641.8 796.5C639.8 801.5 637.6 806.8 635.2 812.3C632.8 817.8 630.1 823.6 627.3 829.3C624.4 835 621.4 840.7 618.1 846.4C614.8 852.1 611.1 858 607.6 863.5C604.1 869 600.4 874.8 597.1 879.3C593.8 883.8 591.6 886.2 587.8 890.5C583.9 894.8 578.6 900.4 574 905C569.4 909.6 564.5 914.3 560 918.2C555.5 922.1 549.3 926.5 547.2 928.2" fill="none" stroke="#000" stroke-width="3.4" stroke-linejoin="round" stroke-linecap="round"/>
</svg>
</body></html>
